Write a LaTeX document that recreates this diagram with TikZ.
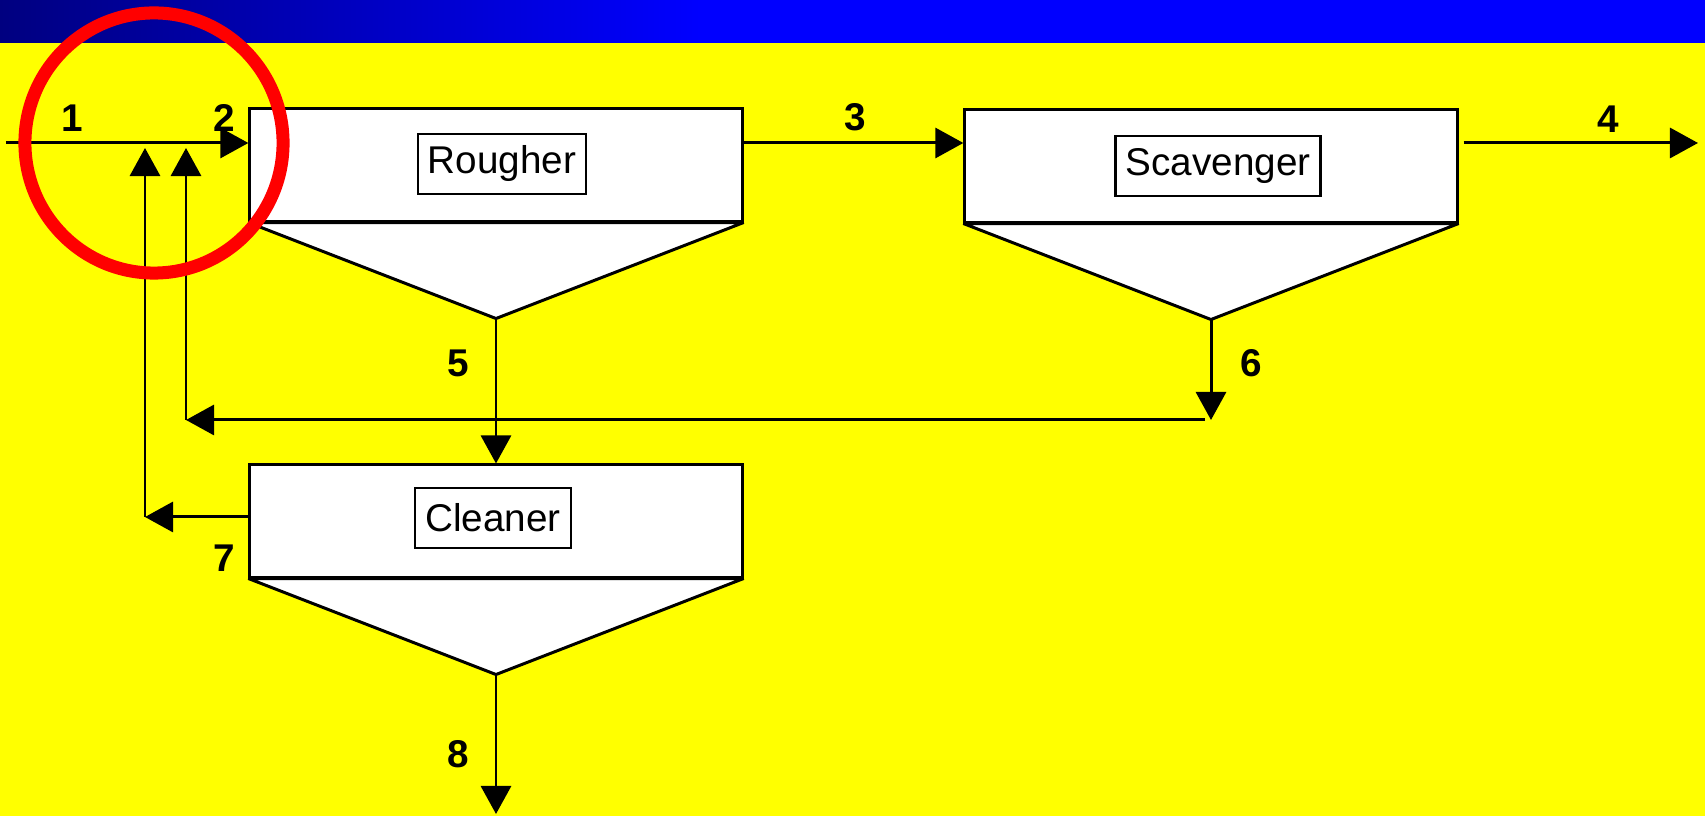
\documentclass[tikz,border=0pt]{standalone}
\usepackage{fontspec}
\setmainfont{Liberation Sans}
\usepackage{xcolor}
\usepackage{tikz}
\usetikzlibrary{positioning,calc,arrows.meta}

\definecolor{bgyellow}{RGB}{255,255,0}
\definecolor{bandnavy}{RGB}{0,0,128}
\definecolor{bandblue}{RGB}{0,0,255}
\definecolor{ringred}{RGB}{255,0,0}

\begin{document}
\begin{tikzpicture}[x=0.01cm, y=-0.01cm,
        cell/.style={draw, fill=white, line width=0.85pt, minimum width=4.92cm, minimum height=1.12cm, inner sep=0pt},
        hopper/.style={draw, fill=white, line width=0.85pt, line join=bevel},
        tag/.style={draw, fill=white, line width=0.6pt, inner xsep=0.1cm, minimum height=0.6cm, font=\fontsize{11}{13}\selectfont},
        num/.style={font=\fontsize{11}{13}\selectfont\bfseries},
        flow/.style={line width=0.85pt, -{Triangle[length=0.28cm, width=0.3cm]}}]
        % background and title band
        \fill[bgyellow] (0,0) rectangle (1705,816);
        \shade[left color=bandnavy, right color=bandblue] (0,0) rectangle (700,43);
        \fill[bandblue] (699,0) rectangle (1705,43);

        % flotation cells
        \node[cell] (rougher) at (496,165) {};
        \node[cell] (scavenger) at (1211,166) {};
        \node[cell] (cleaner) at (496,521) {};
        \foreach \u in {rougher,scavenger,cleaner} {
            \draw[hopper] (\u.south west) -- (\u.south east) -- ($(\u.south)+(0,96)$) coordinate (\u-tip) -- cycle;
        }
        \node[tag] (rougher-tag) at (502,164) {Rougher};
        \node[tag] (scavenger-tag) at (1218,166) {Scavenger};
        \node[tag] (cleaner-tag) at (493,518) {Cleaner};

        % stream end points
        \coordinate (feed) at (6,143);
        \coordinate (tail4) at (1698,143);
        \coordinate (ret6) at (186,420);
        \coordinate (join6) at (186,148);
        \coordinate (ret7) at (145,517);
        \coordinate (join7) at (145,148);
        \coordinate (tail8) at (496,814);

        % streams
        \draw[flow] (feed) -- (feed -| rougher.west);
        \draw[flow] (rougher.east |- feed) -- (scavenger.west |- feed);
        \draw[flow] ($(scavenger.east |- feed)+(5,0)$) -- (tail4);
        \draw[flow] (rougher-tip) -- (cleaner.north);
        \draw[flow] (scavenger-tip) -- (scavenger-tip |- ret6);
        \draw[flow] ($(scavenger-tip |- ret6)+(-6,0)$) -- (ret6);
        \draw[flow] (ret6) -- (join6);
        \draw[flow] (cleaner.west |- ret7) -- (ret7);
        \draw[flow] (ret7) -- (join7);
        \draw[flow] (cleaner-tip) -- (tail8);

        % stream numbers
        \foreach \x/\y/\n in {72/118/1, 224/118/2, 855/117/3, 1608/119/4, 458/363/5, 1251/363/6, 224/558/7, 458/754/8} {
            \node[num] (s\n) at (\x,\y) {\n};
        }

        % highlight
        \draw[ringred, line width=0.13cm] (154,143) ellipse [x radius=1.29cm, y radius=1.30cm];
    \end{tikzpicture}
\end{document}
